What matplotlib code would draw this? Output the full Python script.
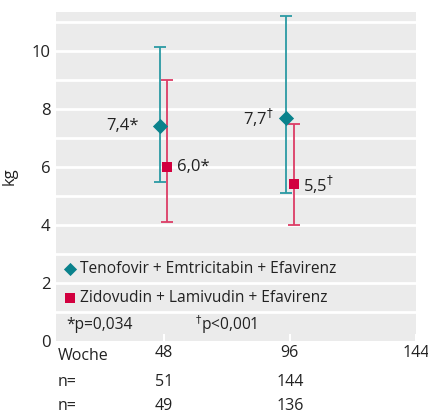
import numpy as np
import matplotlib.pyplot as plt

plt.rcParams['font.family'] = ['Open Sans', 'DejaVu Sans']

# ── DATA ──────────────────────────────────────────────────────────────────
weeks = [48, 96]
teno_mean = [7.4, 7.7]
teno_low = [5.5, 5.1]
teno_high = [10.15, 11.2]
zido_mean = [6.0, 5.4]
zido_low = [4.1, 4.0]
zido_high = [9.0, 7.5]
teno_labels = ["7,4*", "7,7$^{\u2020}$"]
zido_labels = ["6,0*", "5,5$^{\u2020}$"]
n_teno = [51, 144]
n_zido = [49, 136]
series_names = ["Tenofovir + Emtricitabin + Efavirenz",
                "Zidovudin + Lamivudin + Efavirenz"]

teal = '#0a828c'
teal_err = '#2b9aa3'
red = '#d2003f'
red_err = '#dc3d66'
txt = '#222222'
fs = 11.2

fig = plt.figure(figsize=(4.28, 4.16), dpi=100)
ax = fig.add_axes([56 / 428, 1 - 341 / 416, 360 / 428, 329 / 416])
ax.set_facecolor('#ebebeb')
for s in ax.spines.values():
    s.set_visible(False)

ax.set_xlim(7, 144)
ax.set_ylim(0, 11.35)
for y in range(1, 12):
    ax.axhline(y, color='white', lw=2, zorder=1)

off = 1.4
w = np.array(weeks, dtype=float)
tm, zm = np.array(teno_mean), np.array(zido_mean)
ax.errorbar(w - off, tm, yerr=[tm - teno_low, np.array(teno_high) - tm],
            fmt='none', ecolor=teal_err, elinewidth=1.3, capsize=4, capthick=1.3, zorder=3)
ax.errorbar(w + off, zm, yerr=[zm - zido_low, np.array(zido_high) - zm],
            fmt='none', ecolor=red_err, elinewidth=1.3, capsize=4, capthick=1.3, zorder=3)
ax.scatter(w - off, tm, marker='D', s=60, color=teal, zorder=4, linewidths=0)
ax.scatter(w + off, zm, marker='s', s=60, color=red, zorder=4, linewidths=0)

for x, y, t, d in zip(w - off, tm, teno_labels, [8, 4.5]):
    ax.text(x - d, y, t, ha='right', va='center', fontsize=12, color=txt)
for x, y, t in zip(w + off, zm, zido_labels):
    ax.text(x + 3.5, y, t, ha='left', va='center', fontsize=12, color=txt)

# legend rows inside the grid bands
ax.scatter([12.5], [2.5], marker='D', s=45, color=teal, linewidths=0, clip_on=False, zorder=4)
ax.text(16.3, 2.5, series_names[0], va='center', fontsize=fs, color=txt)
ax.scatter([12.5], [1.5], marker='s', s=45, color=red, linewidths=0, clip_on=False, zorder=4)
ax.text(16.3, 1.5, series_names[1], va='center', fontsize=fs, color=txt)
ax.text(11, 0.55, "*p=0,034", va='center', fontsize=fs, color=txt)
ax.text(60, 0.55, "$^{\u2020}$p<0,001", va='center', fontsize=fs, color=txt)

ax.set_yticks([0, 2, 4, 6, 8, 10])
ax.set_xticks([48, 96, 144])
ax.tick_params(axis='y', length=0, labelsize=12, pad=4, colors=txt)
ax.tick_params(axis='x', direction='in', length=5, width=1.5, color='white',
               labelsize=11.5, pad=3, labelcolor=txt)
ax.set_ylabel("kg", fontsize=12, color=txt, labelpad=10)

# table under the axis
tr = ax.get_xaxis_transform()
ax.text(7.5, -0.02, "Woche", transform=tr, ha='left', va='top', fontsize=11.5, color=txt)
for row, vals in enumerate([n_teno, n_zido]):
    yy = -0.1 - row * 0.072
    ax.text(7.5, yy, "n=", transform=tr, ha='left', va='top', fontsize=11.5, color=txt)
    for x, v in zip(weeks, vals):
        ax.text(x, yy, str(v), transform=tr, ha='center', va='top', fontsize=11.5, color=txt)

plt.savefig("out.png", dpi=100)
